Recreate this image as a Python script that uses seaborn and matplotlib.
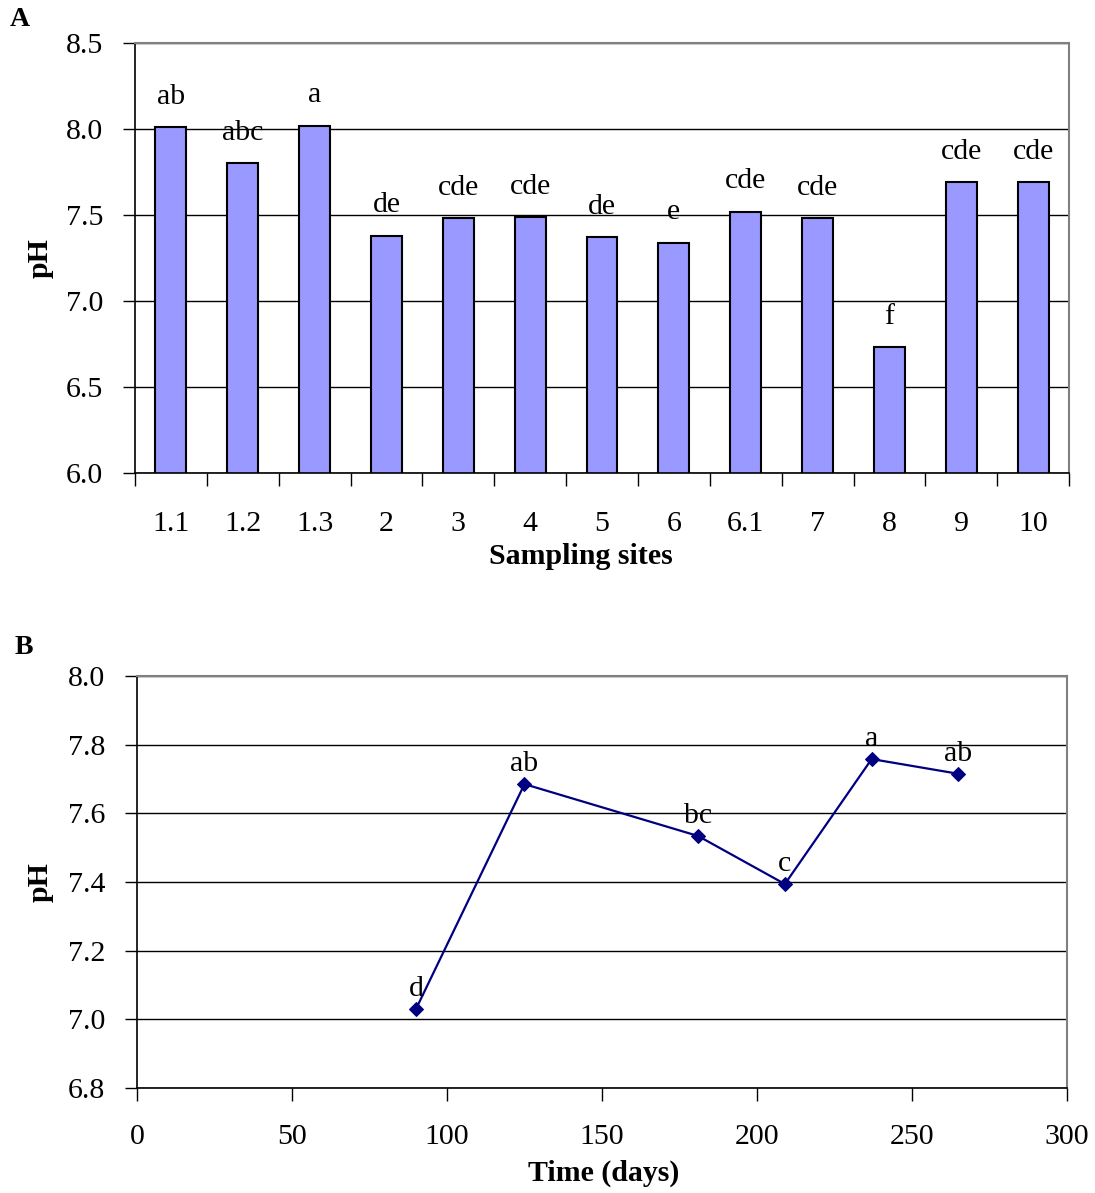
import numpy as np
import pandas as pd
import matplotlib
matplotlib.use("Agg")
import matplotlib.pyplot as plt
import seaborn as sns

# ---- Data ----
sites = ["1.1", "1.2", "1.3", "2", "3", "4", "5", "6", "6.1", "7", "8", "9", "10"]
site_ph = [8.01, 7.80, 8.02, 7.38, 7.48, 7.49, 7.37, 7.34, 7.52, 7.48, 6.73, 7.69, 7.69]
site_letters = ["ab", "abc", "a", "de", "cde", "cde", "de", "e", "cde", "cde", "f", "cde", "cde"]

days = [90, 125, 181, 209, 237, 265]
day_ph = [7.03, 7.685, 7.534, 7.394, 7.758, 7.715]
day_letters = ["d", "ab", "bc", "c", "a", "ab"]

sns.set_style("white")
plt.rcParams["font.family"] = ["Liberation Serif", "DejaVu Serif"]
for k in ["text.color", "axes.labelcolor", "xtick.color", "ytick.color"]:
    plt.rcParams[k] = "black"

FS = 21.5
fig = plt.figure(figsize=(10.95, 11.93), dpi=100)

# ---------- Panel A ----------
axA = fig.add_axes([0.1233, 0.6035, 0.853, 0.3604])
dfA = pd.DataFrame({"site": sites, "pH": site_ph})
sns.barplot(data=dfA, x="site", y="pH", ax=axA, color="#9999FF", saturation=1,
            edgecolor="black", linewidth=1.5, width=0.43, order=sites)
axA.set_ylim(6.0, 8.5)
axA.set_xlim(-0.5, len(sites) - 0.5)
axA.set_yticks(np.arange(6.0, 8.51, 0.5))
axA.set_yticklabels([f"{v:.1f}" for v in np.arange(6.0, 8.51, 0.5)], fontsize=FS)
axA.set_axisbelow(True)
axA.yaxis.grid(True, color="black", linewidth=1)
axA.xaxis.grid(False)
axA.set_xticks(np.arange(-0.5, len(sites)), minor=False)
axA.set_xticklabels([""] * (len(sites) + 1))
axA.set_xticks(np.arange(len(sites)), minor=True)
axA.set_xticklabels(sites, minor=True, fontsize=FS)
axA.tick_params(axis="x", which="major", direction="out", length=9, width=1, color="black", bottom=True)
axA.tick_params(axis="x", which="minor", length=0, pad=27, bottom=True)
axA.tick_params(axis="y", direction="out", length=9, width=1, color="black", left=True, pad=14)
for i, (v, lab) in enumerate(zip(site_ph, site_letters)):
    axA.text(i, v + 0.1, lab, ha="center", va="bottom", fontsize=FS)
axA.set_xlabel("Sampling sites", fontsize=FS, fontweight="bold")
axA.xaxis.set_label_coords((581 - 135) / 934, -(556 - 473) / 430, transform=axA.transAxes)
axA.xaxis.label.set_va("center")
axA.set_ylabel("pH", fontsize=FS, fontweight="bold")
axA.yaxis.set_label_coords(-(135 - 40) / 934, 0.5, transform=axA.transAxes)
axA.yaxis.label.set_va("center")
for s in ["left", "bottom"]:
    axA.spines[s].set_color("black")
    axA.spines[s].set_linewidth(1.2)
for s in ["top", "right"]:
    axA.spines[s].set_color("#808080")
    axA.spines[s].set_linewidth(1.5)

# ---------- Panel B ----------
axB = fig.add_axes([0.1251, 0.088, 0.8493, 0.3454])
dfB = pd.DataFrame({"day": days, "pH": day_ph})
sns.lineplot(data=dfB, x="day", y="pH", ax=axB, color="#000080", marker="D",
             markersize=7, markeredgecolor="#000080", linewidth=1.6)
axB.set_xlim(0, 300)
axB.set_ylim(6.8, 8.0)
yt = np.arange(6.8, 8.01, 0.2)
axB.set_yticks(yt)
axB.set_yticklabels([f"{v:.1f}" for v in yt], fontsize=FS)
axB.set_xticks(np.arange(0, 301, 50))
axB.set_xticklabels([str(v) for v in range(0, 301, 50)], fontsize=FS)
axB.set_axisbelow(True)
axB.yaxis.grid(True, color="black", linewidth=1)
axB.xaxis.grid(False)
axB.tick_params(axis="x", direction="out", length=9, width=1, color="black", bottom=True, pad=17)
axB.tick_params(axis="y", direction="out", length=9, width=1, color="black", left=True, pad=14)
for x, v, lab in zip(days, day_ph, day_letters):
    axB.text(x, v + 0.02, lab, ha="center", va="bottom", fontsize=FS)
axB.set_xlabel("Time (days)", fontsize=FS, fontweight="bold")
axB.xaxis.set_label_coords((604 - 137) / 930, -(1173 - 1088) / 412, transform=axB.transAxes)
axB.xaxis.label.set_va("center")
axB.set_ylabel("pH", fontsize=FS, fontweight="bold")
axB.yaxis.set_label_coords(-(137 - 40) / 930, 0.5, transform=axB.transAxes)
axB.yaxis.label.set_va("center")
for s in ["left", "bottom"]:
    axB.spines[s].set_color("black")
    axB.spines[s].set_linewidth(1.2)
for s in ["top", "right"]:
    axB.spines[s].set_color("#808080")
    axB.spines[s].set_linewidth(1.5)

fig.text(20 / 1095, 1 - 20 / 1193, "A", fontsize=20, fontweight="bold", ha="center", va="center")
fig.text(24 / 1095, 1 - 648 / 1193, "B", fontsize=20, fontweight="bold", ha="center", va="center")

fig.savefig("out.png", dpi=100)
